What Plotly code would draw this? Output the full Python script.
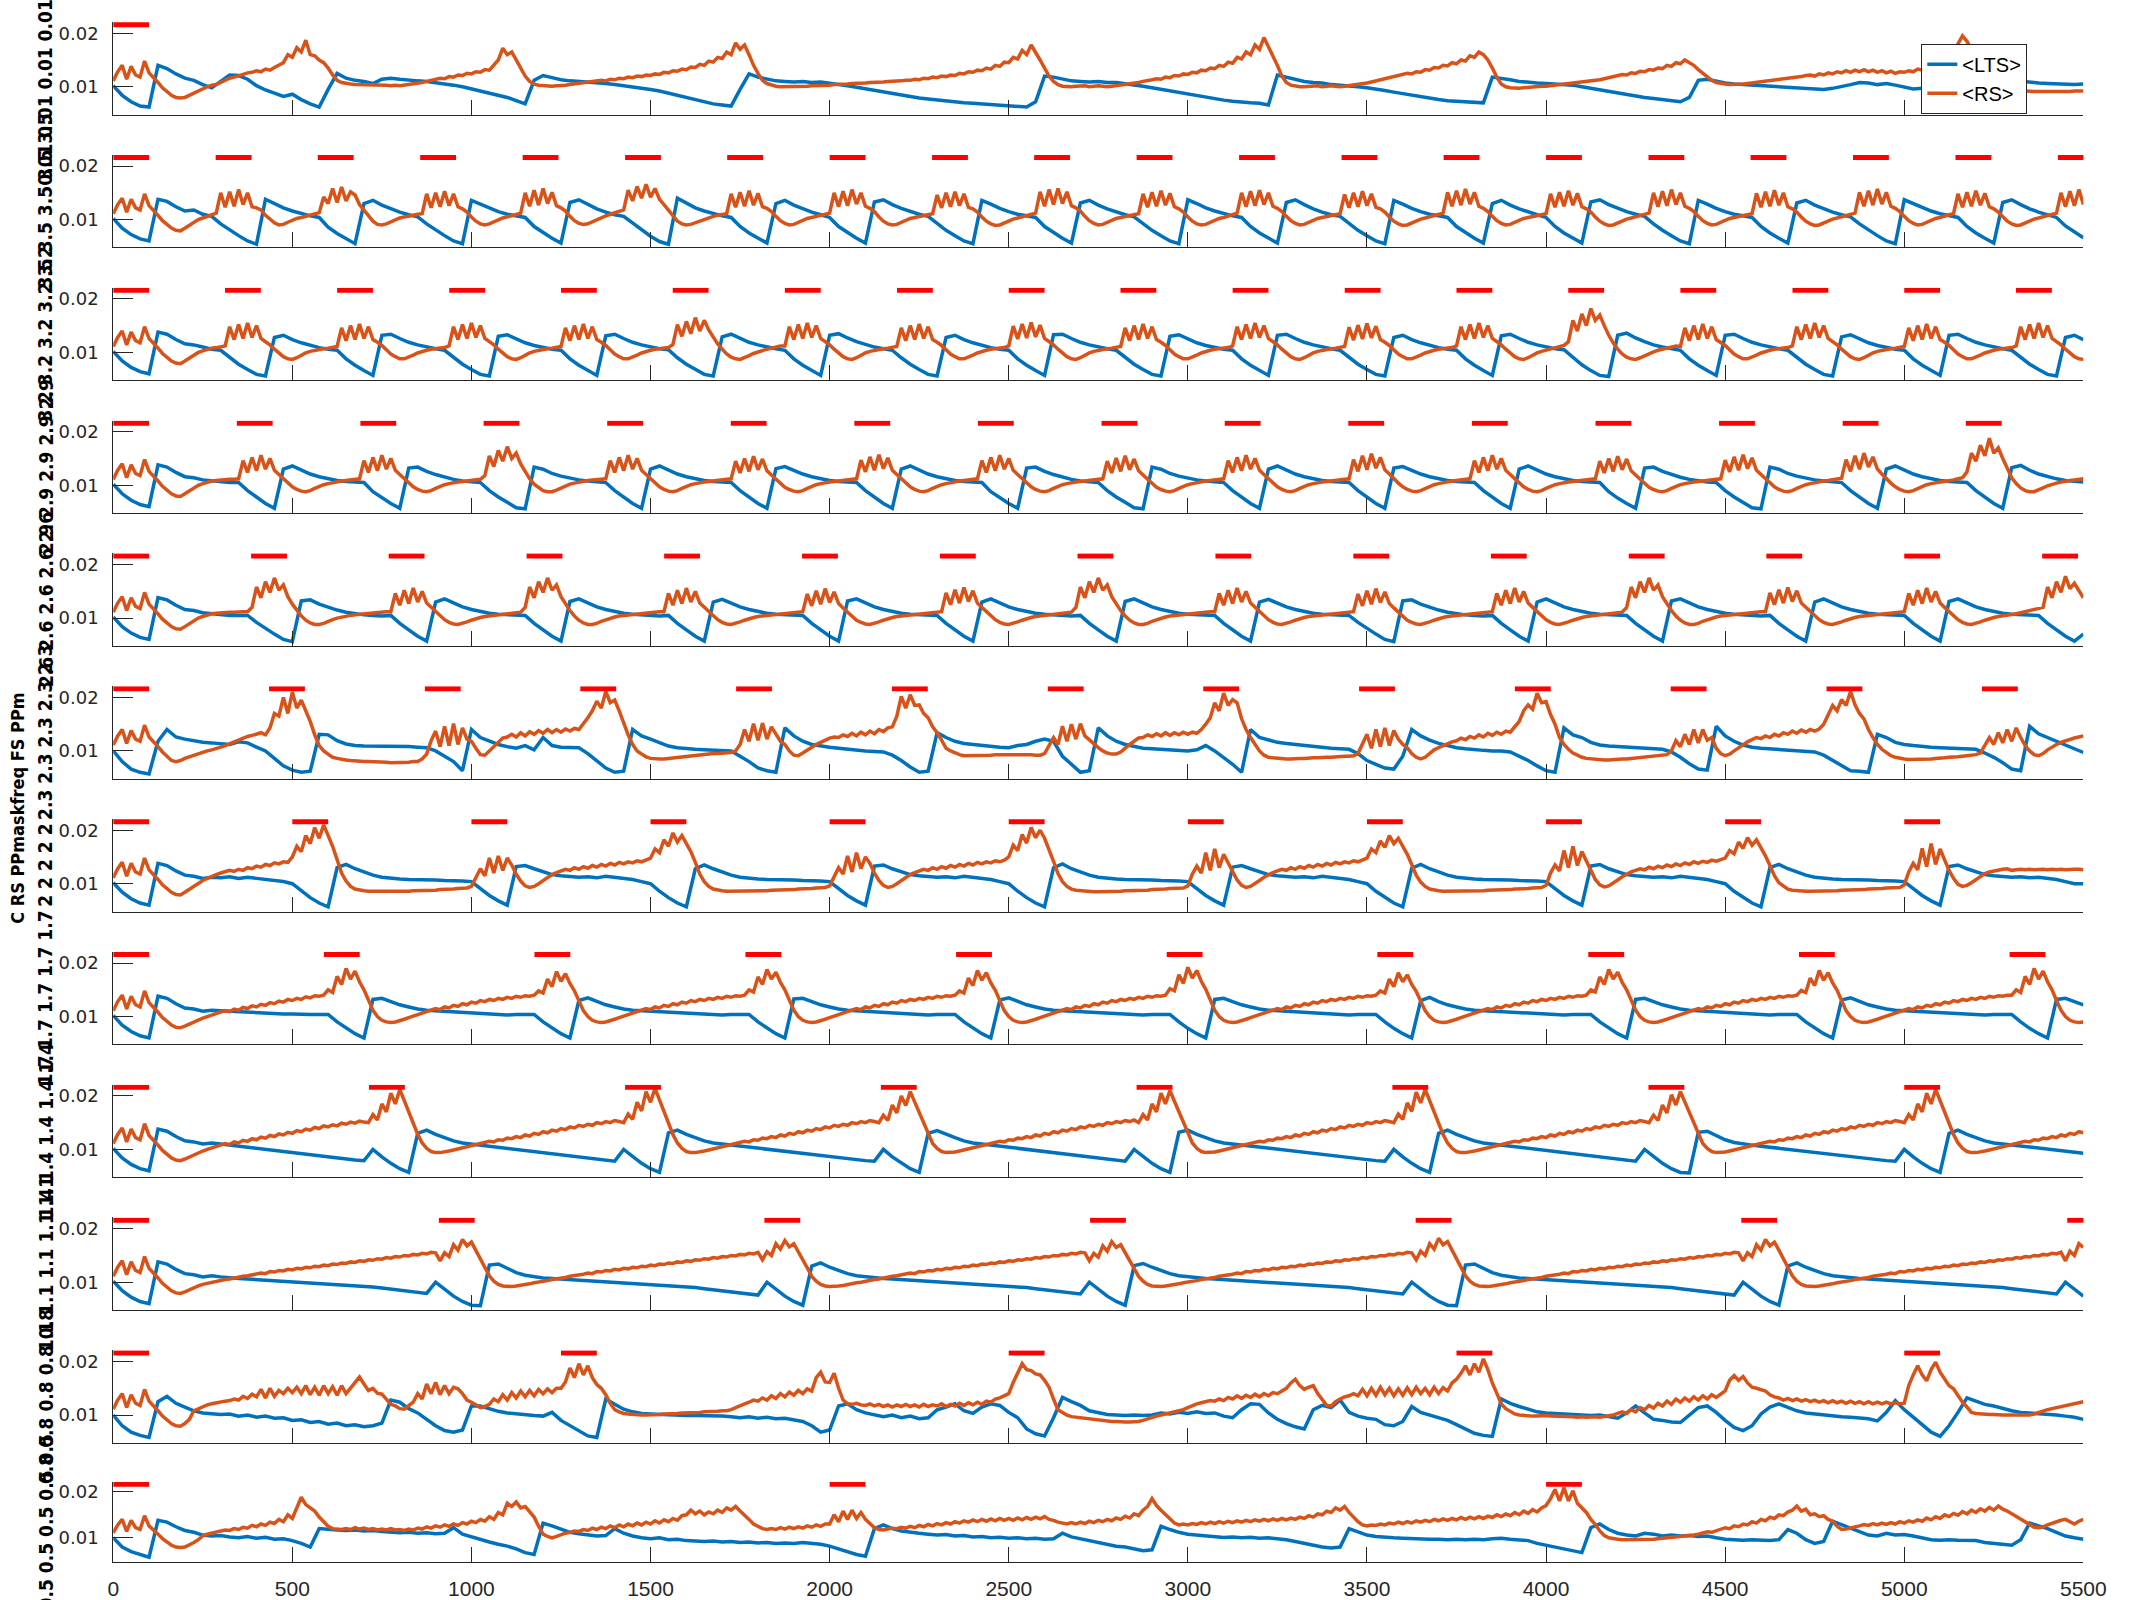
import numpy as np
import plotly.graph_objects as go

# ---------------- data ----------------
# Population-averaged activity (values in units of 1e-4).
# RS series are sampled every 12.5 ms, LTS series every 25 ms, from 0 to 5500 ms.
FREQ_LABELS = ['0.01', '3.5', '3.2', '2.9', '2.6', '2.3', '2', '1.7', '1.4', '1.1', '0.8', '0.5']
TICK_X = [0, 500, 1000, 1500, 2000, 2500, 3000, 3500, 4000, 4500, 5000, 5500]
TICK_Y = [0.01, 0.02]
TICK_Y_TEXT = ['0.01', '0.02']
PULSE_DUR = 100

ON_01 = [0]
ON_02 = [0, 286, 571, 857, 1143, 1429, 1714, 2000, 2286, 2571, 2857, 3143, 3429, 3714, 4000, 4286, 4571, 4857, 5143, 5429]
ON_03 = [0, 312, 625, 938, 1250, 1562, 1875, 2188, 2500, 2812, 3125, 3438, 3750, 4062, 4375, 4688, 5000, 5312]
ON_04 = [0, 345, 690, 1034, 1379, 1724, 2069, 2414, 2759, 3103, 3448, 3793, 4138, 4483, 4828, 5172]
ON_05 = [0, 385, 769, 1154, 1538, 1923, 2308, 2692, 3077, 3462, 3846, 4231, 4615, 5000, 5385]
ON_06 = [0, 435, 870, 1304, 1739, 2174, 2609, 3043, 3478, 3913, 4348, 4783, 5217]
ON_07 = [0, 500, 1000, 1500, 2000, 2500, 3000, 3500, 4000, 4500, 5000]
ON_08 = [0, 588, 1176, 1765, 2353, 2941, 3529, 4118, 4706, 5294]
ON_09 = [0, 714, 1429, 2143, 2857, 3571, 4286, 5000]
ON_10 = [0, 909, 1818, 2727, 3636, 4545, 5455]
ON_11 = [0, 1250, 2500, 3750, 5000]
ON_12 = [0, 2000, 4000]

RS_01 = [111,128,140,114,138,122,118,148, 126,118,108,98,90,84,80,79,
         80,84,89,93,97,100,103,104, 108,112,116,118,120,123,126,127,
         130,128,133,131,136,140,145,160, 155,173,165,187,160,158,150,145,
         135,122,112,108,106,105,104,104, 103,103,104,103,104,103,102,103,
         102,103,104,105,106,108,110,112, 114,116,115,119,118,122,121,125,
         124,128,127,132,131,140,150,172, 160,165,150,135,120,110,105,103,
         102,101,101,102,102,103,104,105, 106,107,108,109,110,112,111,114,
         113,116,115,118,117,120,119,122, 121,124,123,127,126,130,129,133,
         132,137,136,142,140,148,146,155, 153,165,160,182,170,178,160,140,
         125,112,106,103,101,100,100,100, 100,100,101,101,102,102,103,103,
         103,104,104,105,105,106,106,107, 107,108,108,109,109,110,110,111,
         111,112,112,114,113,116,115,118, 117,120,119,122,121,125,124,128,
         127,131,130,135,133,140,138,146, 145,155,152,168,160,178,165,150,
         135,120,110,104,101,100,100,101, 101,102,100,101,102,101,100,101,
         102,103,104,105,107,108,110,111, 113,115,114,118,117,121,120,124,
         123,127,126,131,130,135,134,140, 138,146,144,155,152,165,160,178,
         170,192,175,160,140,120,108,103, 101,100,100,101,101,102,100,101,
         102,101,100,101,102,103,104,106, 107,109,111,113,115,117,119,121,
         123,125,124,128,127,132,131,136, 135,140,139,145,143,150,148,158,
         155,165,160,150,135,118,105,100, 98,97,97,98,99,100,100,101,
         101,102,102,103,104,105,106,107, 108,109,110,112,113,115,117,119,
         121,123,122,126,125,129,128,132, 131,135,134,140,138,145,143,150,
         145,140,132,125,118,112,108,106, 105,104,104,105,105,106,107,108,
         109,110,111,112,113,114,115,117, 118,119,121,122,120,124,122,126,
         124,128,126,130,127,131,128,132, 128,131,127,130,126,129,125,128,
         127,130,128,133,131,137,135,142, 140,150,148,165,180,195,185,170,
         150,130,110,100,96,94,93,93, 93,92,92,92,91,91,91,91,
         90,90,90,91,91,91,92,92,
         92]
LTS_01 = [102,84,72,64, 62,140,134,124, 116,112,104,98, 110,122,121,114, 102,94,88,82,
          86,76,68,62, 95,125,116,112, 110,106,114,116, 114,112,111,110, 108,106,103,100,
          96,92,88,84, 80,74,68,112, 121,117,113,111, 110,108,107,106, 104,102,100,98,
          95,92,88,84, 80,76,72,68, 66,64,95,124, 118,114,111,110, 109,110,108,109,
          107,105,102,99, 96,93,90,87, 84,82,79,77, 75,74,72,70, 69,68,67,66,
          65,64,62,72, 120,118,114,111, 110,109,110,108, 108,106,104,101, 98,95,92,89,
          86,83,80,77, 75,73,71,70, 69,66,122,118, 113,110,108,107, 104,103,101,100,
          98,96,93,90, 87,84,81,78, 76,74,73,72, 71,70,118,116, 113,110,108,107,
          106,105,104,103, 100,97,94,91, 88,85,82,80, 78,76,74,72, 80,112,114,110,
          107,105,104,103, 101,100,99,98, 97,96,95,95, 97,100,104,108, 107,104,106,103,
          99,96,97,100, 94,85,72,62, 70,115,122,116, 112,110,108,107, 106,105,104,104,
          105]

RS_02 = [111,128,140,114,138,122,118,148,126,118,108,98,90,84,80,79,84,90,95,100,103,106,109,
         112,150,123,152,125,156,128,150,124,122,118,108,100,94,90,91,95,99,102,104,106,108,110,
         113,142,130,158,132,161,135,152,146,128,118,106,97,91,90,92,96,100,103,105,106,108,110,
         111,148,122,150,124,153,126,148,124,120,114,105,97,92,90,92,96,100,103,105,107,109,
         112,150,125,155,127,158,130,151,126,122,116,106,98,93,91,92,96,100,104,107,110,113,116,
         118,155,135,162,140,166,142,158,138,128,118,106,97,92,90,91,94,98,101,104,106,108,110,
         111,148,123,151,125,154,127,149,124,121,115,106,98,93,90,91,95,99,102,104,106,108,110,
         112,150,124,153,126,156,129,150,125,121,115,105,97,92,90,91,95,99,102,104,106,108,110,
         111,146,122,150,124,152,126,148,123,120,114,105,97,92,89,90,94,98,101,103,105,107,109,
         112,152,125,156,128,158,130,152,126,122,116,106,98,93,90,91,95,99,102,104,106,108,110,
         111,148,123,151,125,154,127,149,124,120,114,105,97,92,90,91,95,99,102,104,107,109,
         112,150,124,153,126,155,128,150,125,121,115,106,98,93,90,91,95,99,102,104,106,108,110,
         111,147,122,150,124,153,126,148,123,120,114,105,97,92,89,90,94,98,101,103,105,107,109,
         112,151,125,154,127,157,129,151,125,121,115,106,98,93,90,91,95,99,102,104,106,108,110,
         111,148,123,151,125,154,127,149,124,120,114,105,97,92,89,90,94,98,101,103,105,107,109,
         112,150,124,153,126,156,128,150,125,121,115,106,98,93,90,91,95,99,102,104,106,108,110,
         111,149,123,152,125,155,127,150,124,120,114,105,97,92,89,90,94,98,101,103,105,107,109,
         112,151,125,154,127,157,129,151,125,121,115,106,98,93,90,91,95,99,102,104,107,109,
         111,148,123,151,125,154,127,149,124,120,114,105,97,92,89,90,94,98,101,103,105,107,109,
         112,150,124,153,126,156,128]
LTS_02 = [102,84,72,64,60,138,134,124,116,118,110,
          106,92,80,70,60,54,138,130,122,116,111,107,
          104,86,74,64,55,130,136,127,120,114,109,
          105,92,80,70,60,55,136,129,121,115,110,107,
          104,87,75,65,56,132,137,128,120,114,109,
          106,93,80,69,59,54,140,131,122,116,111,107,
          104,87,75,65,56,130,136,127,120,114,109,
          104,87,75,65,56,133,137,128,121,115,110,
          106,92,80,70,60,55,136,129,121,115,110,107,
          104,87,75,65,56,131,136,127,120,114,109,
          105,92,80,70,60,55,137,130,122,116,111,107,
          104,87,75,65,56,132,137,128,120,114,109,
          106,93,80,70,60,55,136,129,121,115,110,107,
          104,87,75,65,56,130,136,127,120,114,109,
          104,87,75,65,56,133,137,128,121,115,110,
          106,92,80,70,60,55,136,129,121,115,110,107,
          104,87,75,65,56,131,136,127,120,114,109,
          105,92,80,70,60,55,137,130,122,116,111,107,
          104,87,75,65,56,132,137,128,120,114,109,
          104,88,76,66]

RS_03 = [111,128,140,114,138,122,118,148,126,118,108,98,90,84,80,79,84,90,95,100,103,106,108,109,110,
         112,148,124,152,126,155,128,150,126,120,114,106,98,92,88,87,90,95,99,102,104,106,107,108,110,
         111,146,122,150,124,153,126,148,124,119,113,105,97,92,88,88,91,95,99,102,104,106,107,108,109,
         112,148,124,152,126,155,128,150,126,120,114,106,98,92,88,87,90,95,99,102,104,106,107,108,110,
         111,146,122,150,124,153,126,148,124,119,113,105,97,92,88,88,91,95,99,102,104,106,107,108,109,
         115,152,130,158,135,165,140,160,142,128,116,106,97,91,88,87,90,94,98,101,104,106,108,110,112,
         112,148,124,152,126,155,128,150,126,120,114,106,98,92,88,87,90,95,99,102,104,106,107,108,110,
         111,146,122,150,124,153,126,148,124,119,113,105,97,92,88,88,91,95,99,102,104,106,107,108,109,
         112,149,125,153,127,156,129,151,126,120,114,106,98,92,88,87,90,95,99,102,104,106,107,108,110,
         111,146,122,150,124,153,126,148,124,119,113,105,97,92,88,88,91,95,99,102,104,106,107,108,109,
         112,148,124,152,126,155,128,150,126,120,114,106,98,92,88,87,90,95,99,102,104,106,107,108,110,
         111,147,123,151,125,154,127,149,124,119,113,105,97,92,88,88,91,95,99,102,104,106,107,108,109,
         112,148,124,152,126,155,128,150,126,120,114,106,98,92,88,87,90,95,99,102,104,106,108,110,113,
         120,160,140,172,150,182,160,170,150,132,118,106,97,91,88,87,90,94,98,101,104,106,108,110,112,
         111,146,122,150,124,153,126,148,124,119,113,105,97,92,88,88,91,95,99,102,104,106,107,108,109,
         112,148,124,152,126,155,128,150,126,120,114,106,98,92,88,87,90,95,99,102,104,106,107,108,110,
         111,146,122,150,124,153,126,148,124,119,113,105,97,92,88,88,91,95,99,102,104,106,107,108,109,
         112,148,124,152,126,155,128,150,126,120,114,106,98,92,88,87]
LTS_03 = [102,84,72,64,60,138,134,124,116,114,110,106,
          104,90,78,68,59,56,128,132,124,118,113,109,106,
          104,88,76,66,57,132,134,126,119,114,110,107,
          104,90,78,68,59,56,130,133,125,118,113,109,106,
          104,88,76,66,57,131,134,126,119,114,110,107,
          105,90,78,68,59,56,129,134,126,119,114,110,107,
          104,88,76,66,57,132,135,127,120,115,110,107,
          104,90,78,68,59,56,128,132,124,118,113,109,106,
          104,88,76,66,57,133,134,126,119,114,110,107,
          104,90,78,68,59,56,130,133,125,118,113,109,106,
          104,88,76,66,57,132,134,126,119,114,110,107,
          104,90,78,68,59,56,128,132,124,118,113,109,106,
          104,88,76,66,57,131,134,126,119,114,110,107,
          105,90,77,66,57,55,132,136,127,120,114,110,107,
          104,88,76,66,57,132,134,126,119,114,110,107,
          104,90,78,68,59,56,129,133,125,118,113,109,106,
          104,88,76,66,57,132,134,126,119,114,110,107,
          104,90,78,68,59,56,128,132,124]

RS_04 = [111,128,140,114,138,122,118,148,126,118,108,98,90,84,80,79,84,90,95,100,103,106,108,109,110,110,111,111,
         112,146,124,152,127,156,130,150,128,120,112,104,97,92,89,88,90,94,98,101,103,105,107,108,109,110,111,
         112,146,124,152,127,156,130,150,128,120,112,104,97,92,89,88,90,94,98,101,103,105,106,107,108,109,110,111,
         118,155,135,165,145,172,150,160,140,125,112,102,95,90,88,88,91,95,99,102,104,106,108,109,110,111,112,
         112,146,124,152,127,156,130,150,128,120,112,104,97,92,89,88,90,94,98,101,103,105,106,107,108,109,110,111,
         112,145,123,150,126,154,129,149,127,119,111,103,96,92,89,88,90,94,98,101,103,105,106,107,108,109,110,111,
         112,147,125,153,128,157,131,151,128,120,112,104,97,92,89,88,90,94,98,101,103,105,107,108,109,110,111,
         112,146,124,152,127,156,130,150,128,120,112,104,97,92,89,88,90,94,98,101,103,105,106,107,108,109,110,111,
         112,145,123,151,126,155,129,149,127,119,111,103,96,92,89,88,90,94,98,101,103,105,107,108,109,110,111,
         112,146,124,152,127,156,130,150,128,120,112,104,97,92,89,88,90,94,98,101,103,105,106,107,108,109,110,111,
         112,148,126,155,129,159,132,152,129,121,112,104,97,92,89,88,90,94,98,101,103,105,107,108,109,110,111,
         112,146,124,152,127,156,130,150,128,120,112,104,97,92,89,88,90,94,98,101,103,105,106,107,108,109,110,111,
         112,145,123,150,126,154,129,149,127,119,111,103,96,92,89,88,90,94,98,101,103,105,106,107,108,109,110,111,
         112,147,125,153,128,157,131,151,128,120,112,104,97,92,89,88,90,94,98,101,103,105,107,108,109,110,111,
         113,148,126,155,130,160,134,153,130,121,112,104,97,92,89,88,90,94,98,101,103,105,106,107,108,110,112,114,
         125,160,145,175,155,188,160,170,150,130,114,103,95,90,88,88,91,95,99,102,104,106,108,109,110,111,112]
LTS_04 = [102,84,72,64,60,138,134,124,116,114,110,108,106,105,
          105,90,78,66,57,130,136,128,121,116,112,109,107,106,
          105,88,76,66,57,132,134,126,120,115,111,108,106,
          105,90,78,68,58,56,134,130,122,117,113,110,108,106,
          105,90,78,66,57,130,136,128,121,116,112,109,107,106,
          105,90,78,66,57,131,135,128,121,116,112,109,107,106,
          105,90,78,66,57,130,136,128,121,116,112,109,107,106,
          105,88,76,66,57,132,134,126,120,115,111,108,106,
          105,90,78,68,58,56,134,130,122,117,113,110,108,106,
          105,90,78,66,57,130,136,128,121,116,112,109,107,106,
          105,90,78,66,57,132,135,128,121,116,112,109,107,106,
          105,90,78,66,57,130,136,128,121,116,112,109,107,106,
          105,88,76,66,57,132,134,126,120,115,111,108,106,
          105,90,78,68,58,56,134,130,122,117,113,110,108,106,
          105,90,78,66,57,130,136,128,121,116,112,109,107,106,
          105,90,78,66,57,133,137,128,121,116,112,109,107,106]

RS_05 = [111,128,140,114,138,122,118,148,126,118,108,98,90,84,80,79,84,90,95,100,103,106,108,109,110,110,111,111,112,112,112,
         120,158,138,168,148,175,152,162,140,126,114,104,96,91,88,88,90,94,97,100,102,104,105,106,107,108,109,110,111,112,112,
         112,146,124,152,127,156,130,150,128,120,112,104,97,92,89,88,90,93,96,99,101,103,104,105,106,107,108,109,110,111,
         120,158,138,168,148,175,152,162,140,126,114,104,96,91,88,88,90,94,97,100,102,104,105,106,107,108,109,110,111,112,112,
         112,146,124,152,127,156,130,150,128,120,112,104,97,92,89,88,90,93,96,99,101,103,104,105,106,107,108,109,110,111,111,
         112,145,123,151,126,155,129,149,127,119,111,103,96,92,89,88,90,93,96,99,101,103,104,105,106,107,108,109,110,111,111,
         112,147,125,153,128,157,131,151,128,120,112,104,97,92,89,88,90,93,96,99,101,103,104,105,106,107,108,109,110,111,
         120,158,138,168,148,175,152,162,140,126,114,104,96,91,88,88,90,94,97,100,102,104,105,106,107,108,109,110,111,112,112,
         112,146,124,152,127,156,130,150,128,120,112,104,97,92,89,88,90,93,96,99,101,103,104,105,106,107,108,109,110,111,111,
         112,145,123,151,126,155,129,149,127,119,111,103,96,92,89,88,90,93,96,99,101,103,104,105,106,107,108,109,110,111,111,
         112,146,124,152,127,156,130,150,128,120,112,104,97,92,89,88,90,93,96,99,101,103,104,105,106,107,108,109,110,111,
         120,158,138,168,148,175,152,162,140,126,114,104,96,91,88,88,90,94,97,100,102,104,105,106,107,108,109,110,111,112,112,
         112,147,125,153,128,157,131,151,128,120,112,104,97,92,89,88,90,93,96,99,101,103,104,105,106,107,108,109,110,111,111,
         112,146,124,152,127,156,130,150,128,120,112,104,97,92,89,88,90,93,96,99,101,103,104,105,106,108,110,112,114,116,118,
         120,158,138,168,148,178,155,165,150,138]
LTS_05 = [102,84,72,64,60,138,134,124,116,114,110,108,106,105,105,
          105,92,80,70,60,56,132,134,126,120,115,111,108,106,105,104,
          105,90,78,66,57,130,136,128,121,116,112,109,107,106,105,
          105,90,78,66,57,131,136,128,121,116,112,109,107,106,105,104,
          105,90,78,66,57,130,135,128,121,116,112,109,107,106,105,
          105,90,78,66,57,132,136,128,121,116,112,109,107,106,105,
          105,90,78,66,57,130,136,128,121,116,112,109,107,106,105,104,
          105,90,78,66,57,131,136,128,121,116,112,109,107,106,105,
          105,90,78,66,57,130,135,128,121,116,112,109,107,106,105,
          105,92,80,70,60,56,132,134,126,120,115,111,108,106,105,104,
          105,90,78,66,57,130,136,128,121,116,112,109,107,106,105,
          105,90,78,66,57,132,136,128,121,116,112,109,107,106,105,104,
          105,90,78,66,57,130,136,128,121,116,112,109,107,106,105,
          105,90,78,66,57,131,136,128,121,116,112,109,107,106,105,
          105,90,78,66,57,70]

RS_06 = [111,128,140,114,138,122,118,148, 126,118,108,98,90,82,80,82,
         86,89,92,95,97,100,102,104, 107,110,114,117,120,124,127,129,
         131,134,130,143,170,165,200,170, 210,180,195,175,155,130,110,100,
         93,88,86,84,83,82,81,81, 80,80,80,79,79,79,78,78,
         78,78,79,80,80,85,94,119, 137,108,146,110,151,112,143,122,
         118,105,93,92,100,110,118,124, 126,131,126,134,128,136,131,138,
         133,140,134,140,135,141,137,142, 140,150,162,175,193,180,211,190,
         195,175,150,130,112,100,94,89, 86,85,85,85,86,86,87,88,
         89,90,91,92,93,94,95,95, 96,96,97,100,112,140,118,151,
         120,152,122,145,130,118,112,100, 92,91,96,102,108,112,116,120,
         124,126,125,130,127,133,128,135, 130,137,132,140,136,143,145,165,
         202,180,205,185,186,170,162,145, 134,120,105,100,96,93,91,91,
         91,91,92,92,92,93,93,93, 93,93,94,94,94,93,92,92,
         95,110,125,112,146,118,150,122, 151,128,120,112,106,100,96,94,
         94,98,106,112,118,124,125,130, 127,132,128,134,129,134,130,135,
         131,135,133,140,150,162,190,175, 208,185,196,190,160,140,125,112,
         100,92,88,87,86,86,85,85, 86,86,86,87,87,87,88,88,
         88,89,89,90,90,91,95,115, 131,105,140,108,143,110,138,122,
         112,106,95,88,85,88,95,102, 106,110,114,117,119,124,121,127,
         124,130,126,133,129,135,131,137, 135,145,155,175,186,178,208,190,
         192,168,150,125,112,103,96,92, 88,86,85,84,84,83,83,84,
         84,85,85,86,86,87,88,89, 90,91,92,93,100,119,108,131,
         112,140,115,140,120,125,105,95, 91,94,100,106,112,117,121,125,
         123,128,125,131,128,134,131,137, 133,139,135,140,137,141,150,168,
         185,175,196,185,211,186,170,160, 140,125,112,103,96,91,88,86,
         85,84,84,84,84,85,85,86, 86,87,88,88,89,90,91,92,
         93,96,110,125,112,134,115,140, 118,143,125,110,100,93,91,95,
         102,108,112,116,119,122,124,126,
         128]
LTS_06 = [100,80,66,60, 57,118,140,126, 122,119,116,115, 113,112,117,115, 107,100,86,72,
          64,60,62,131, 130,119,113,110, 109,109,109,109, 108,108,107,106, 100,90,80,63,
          140,125,118,112, 108,105,110,102, 125,110,107,106, 106,95,82,68, 60,62,140,128,
          122,115,109,106, 104,103,102,101, 100,100,90,80, 68,63,60,143, 128,118,112,109,
          107,105,103,102, 100,99,98,92, 82,70,60,62, 134,125,118,114, 112,110,108,107,
          106,110,112,118, 122,118,90,75, 60,63,143,128, 118,112,108,105, 104,103,102,101,
          100,102,110,100, 88,75,60,140, 125,120,116,114, 112,110,108,106, 105,104,103,95,
          82,75,68,66, 90,140,128,120, 114,110,106,104, 102,101,100,100, 98,90,82,72,
          63,60,143,130, 125,116,111,109, 108,107,106,105, 104,103,98,88, 76,66,64,146,
          128,118,111,107, 105,104,103,102, 101,100,98,92, 82,72,63,62, 60,131,125,116,
          112,110,108,107, 106,105,104,104, 103,96,88,78, 66,63,146,132, 125,118,112,104,
          97]

RS_07 = [111,128,140,114,138,122,118,148,126,118,108,98,90,84,80,79,84,90,96,101,106,110,114,117,120,122,125,123,127,125,130,128,133,131,136,134,139,137,141,140,
         150,170,160,190,175,205,185,210,190,170,145,120,105,95,90,88,87,86,86,85,85,85,85,85,86,86,86,87,87,87,88,88,88,89,89,90,90,91,91,92,
         95,112,128,115,148,120,152,125,148,135,118,105,96,93,95,100,106,112,117,121,124,127,125,130,127,132,129,134,131,136,133,138,135,140,137,141,139,143,141,144,
         148,165,158,182,170,195,178,190,175,160,140,118,104,95,90,88,87,86,86,86,86,86,86,86,87,87,87,88,88,88,89,89,89,90,90,91,91,92,92,93,
         96,115,130,118,152,122,158,128,150,138,120,106,97,93,95,100,106,112,117,121,124,127,125,130,127,132,129,134,131,136,133,138,135,140,137,141,139,143,141,144,
         150,172,162,192,176,205,186,200,185,165,142,119,104,95,90,88,87,86,86,85,85,85,85,86,86,86,87,87,87,88,88,88,89,89,90,90,91,91,92,92,
         96,118,133,120,158,125,165,130,155,140,122,107,97,93,95,100,106,112,117,121,124,127,125,130,127,132,129,134,131,136,133,138,135,140,137,141,139,143,141,144,
         148,165,158,180,168,190,175,185,170,155,136,116,103,95,90,88,87,86,86,86,86,86,86,86,87,87,87,88,88,88,89,89,89,90,90,91,91,92,92,93,
         97,120,135,124,162,130,170,134,160,142,123,108,98,94,96,101,107,113,118,122,125,128,126,131,128,133,130,135,132,137,134,139,136,141,138,142,140,144,142,145,
         148,162,156,178,166,186,172,182,168,152,134,115,102,95,90,88,87,87,86,86,86,86,86,87,87,87,88,88,88,89,89,89,90,90,91,91,92,92,93,93,
         98,122,138,126,166,132,175,136,165,145,125,110,99,95,97,102,108,114,119,122,124,126,127,128,125,126,127,126,127,126,127,127,126,127,126,127,126,127,127,127,
         126]
LTS_07 = [102,84,72,64,60,138,134,124,116,114,110,112,111,113,110,112,110,108,106,104,
          100,86,74,64,57,130,136,128,122,116,112,110,109,108,108,107,107,106,106,105,
          104,90,78,68,60,132,134,128,122,117,115,113,112,113,111,114,112,110,108,104,
          100,86,74,64,57,128,135,128,122,116,112,110,109,108,108,107,107,106,106,105,
          104,90,78,68,60,133,135,128,122,117,115,113,112,113,111,114,112,110,108,104,
          100,86,74,64,57,130,137,128,122,116,112,110,109,108,108,107,107,106,106,105,
          104,90,78,68,60,131,134,128,122,117,115,113,112,113,111,114,112,110,108,104,
          100,86,74,64,57,129,136,128,122,116,112,110,109,108,108,107,107,106,106,105,
          104,90,78,68,60,133,136,128,122,117,115,113,112,113,111,114,112,110,108,104,
          100,86,74,64,57,130,136,128,122,116,112,110,109,108,108,107,107,106,106,105,
          104,90,78,68,60,132,135,128,122,117,115,113,112,113,111,112,110,108,104,100,
          100]

RS_08 = [111,128,140,114,138,122,118,148,126,118,108,98,90,84,80,79,82,86,90,94,97,100,103,106,108,111,109,114,112,117,115,120,118,123,121,126,124,129,127,132,130,134,132,137,135,139,138,
         140,150,145,175,160,190,170,185,165,150,130,112,100,93,90,89,90,92,95,98,101,104,107,110,112,115,113,118,116,121,119,124,122,127,125,130,128,132,130,134,132,136,134,138,136,139,138,
         140,148,144,170,156,184,166,180,162,148,128,111,100,93,90,89,90,92,95,98,101,104,107,110,112,115,113,118,116,121,119,124,122,127,125,130,128,132,130,134,132,136,134,138,136,139,138,
         140,150,146,174,160,188,170,183,164,150,130,112,100,93,90,89,90,92,95,98,101,104,107,110,112,115,113,118,116,121,119,124,122,127,125,130,128,132,130,134,132,136,134,138,136,139,138,
         140,148,144,172,158,186,168,182,163,149,129,111,100,93,90,89,90,92,95,98,101,104,107,110,112,115,113,118,116,121,119,124,122,127,125,130,128,132,130,134,132,136,134,138,136,139,138,
         140,152,148,178,162,192,172,186,166,151,131,112,100,93,90,89,90,92,95,98,101,104,107,110,112,115,113,118,116,121,119,124,122,127,125,130,128,132,130,134,132,136,134,138,136,139,138,
         140,148,144,170,156,182,165,178,160,147,128,111,100,93,90,89,90,92,95,98,101,104,107,110,112,115,113,118,116,121,119,124,122,127,125,130,128,132,130,134,132,136,134,138,136,139,138,
         140,150,146,174,160,188,170,183,164,150,130,112,100,93,90,89,90,92,95,98,101,104,107,110,112,115,113,118,116,121,119,124,122,127,125,130,128,132,130,134,132,136,134,138,136,139,138,
         140,149,145,172,158,186,168,182,163,149,129,111,100,93,90,89,90,92,95,98,101,104,107,110,112,115,113,118,116,121,119,124,122,127,125,130,128,132,130,134,132,136,134,138,136,139,138,140,
         140,150,145,175,160,190,170,185,165,150,130,112,100,93,90,89,90]
LTS_08 = [102,84,72,64,60,138,134,124,116,114,110,112,111,110,109,108,108,107,106,105,105,104,104,104,
          104,90,78,68,60,132,134,128,122,118,114,112,111,110,109,108,107,106,105,104,103,104,104,
          104,90,78,68,60,130,135,128,122,118,114,112,111,110,110,109,108,107,106,105,104,103,104,104,
          104,90,78,68,60,133,134,128,122,118,114,112,111,110,109,108,107,106,105,104,103,104,104,
          104,90,78,68,60,131,135,128,122,118,114,112,111,110,110,109,108,107,106,105,104,103,104,104,
          104,90,78,68,60,132,134,128,122,118,114,112,111,110,109,108,107,106,105,104,103,104,104,
          104,90,78,68,60,130,136,128,122,118,114,112,111,110,110,109,108,107,106,105,104,103,104,104,
          104,90,78,68,60,132,134,128,122,118,114,112,111,110,109,108,107,106,105,104,103,104,104,
          104,90,78,68,60,131,135,128,122,118,114,112,111,110,110,109,108,107,106,105,104,103,104,104,
          104,90,78,68,60,132,134,128,122]

RS_09 = [111,128,140,114,138,122,118,148,126,118,108,98,90,84,80,79,82,86,90,94,97,100,103,106,108,111,109,114,112,117,115,120,118,123,121,126,124,129,127,132,130,135,133,138,136,141,139,144,142,146,144,149,147,151,149,153,151,
         150,165,155,185,170,205,185,212,190,170,150,128,112,102,96,94,94,95,97,99,101,103,105,107,109,111,113,115,114,118,117,121,120,124,122,127,125,130,128,133,131,136,134,139,137,142,140,145,143,147,145,150,148,152,150,154,152,
         150,166,156,188,172,208,188,214,192,172,150,128,112,102,96,94,94,95,97,99,101,103,105,107,109,111,113,115,114,118,117,121,120,124,122,127,125,130,128,133,131,136,134,139,137,142,140,145,143,147,145,150,148,152,150,154,152,
         150,164,154,183,168,200,182,208,188,168,148,127,111,102,96,94,94,95,97,99,101,103,105,107,109,111,113,115,114,118,117,121,120,124,122,127,125,130,128,133,131,136,134,139,137,142,140,145,143,147,145,150,148,152,150,154,152,155,
         150,165,155,185,170,205,185,210,190,170,150,128,112,102,96,94,94,95,97,99,101,103,105,107,109,111,113,115,114,118,117,121,120,124,122,127,125,130,128,133,131,136,134,139,137,142,140,145,143,147,145,150,148,152,150,154,152,
         150,166,156,187,171,207,187,212,191,171,150,128,112,102,96,94,94,95,97,99,101,103,105,107,109,111,113,115,114,118,117,121,120,124,122,127,125,130,128,133,131,136,134,139,137,142,140,145,143,147,145,150,148,152,150,154,152,
         150,164,154,183,168,202,183,208,188,168,148,127,111,102,96,94,94,95,97,99,101,103,105,107,109,111,113,115,114,118,117,121,120,124,122,127,125,130,128,133,131,136,134,139,137,142,140,145,143,147,145,150,148,152,150,154,152,
         150,165,155,185,170,205,185,212,190,170,150,128,112,102,96,94,94,95,97,99,101,103,105,107,109,111,113,115,114,118,117,121,120,124,122,127,125,130,128,133,131]
LTS_09 = [102,84,72,64,60,138,134,124,116,114,110,112,110,108,106,104,102,100,98,96,93,91,89,87,85,83,81,80,79,
          100,86,74,64,57,130,136,128,122,116,112,110,108,107,105,103,101,99,97,95,92,90,88,86,84,82,80,78,
          100,86,74,64,57,131,136,128,122,116,112,110,108,107,105,103,101,99,97,95,92,90,88,86,84,82,80,79,78,
          100,86,74,64,57,130,135,128,122,116,112,110,108,107,105,103,101,99,97,95,92,90,88,86,84,82,80,78,
          100,86,74,64,57,132,136,128,122,116,112,110,108,107,105,103,101,99,97,95,92,90,88,86,84,82,80,79,78,
          100,86,74,64,57,130,136,128,122,116,112,110,108,107,105,103,101,99,97,95,92,90,88,86,84,82,80,78,
          100,86,74,64,57,56,132,134,126,118,113,110,108,106,104,102,100,98,96,94,92,90,88,86,84,82,80,79,78,
          100,86,74,64,57,130,136,128,122,116,112,110,108,107,105,103,101,99,97,95,93]

RS_10 = [111,128,140,114,138,122,118,148,126,118,108,98,90,84,80,79,82,86,90,93,96,98,100,102,103,105,106,108,109,111,112,114,115,117,116,120,119,122,121,124,123,126,125,128,127,130,129,132,131,134,133,136,135,138,137,140,139,142,141,144,143,146,145,148,147,150,149,152,151,154,153,156,155,
         140,155,148,170,160,180,168,175,160,145,128,112,102,96,93,92,92,93,94,96,97,99,100,102,103,105,106,108,109,111,112,114,115,117,116,120,119,122,121,124,123,126,125,128,127,130,129,132,131,134,133,136,135,138,137,140,139,142,141,144,143,146,145,148,147,150,149,152,151,154,153,156,
         142,157,150,172,162,178,166,172,158,144,127,111,102,96,93,92,92,93,94,96,97,99,100,102,103,105,106,108,109,111,112,114,115,117,116,120,119,122,121,124,123,126,125,128,127,130,129,132,131,134,133,136,135,138,137,140,139,142,141,144,143,146,145,148,147,150,149,152,151,154,153,156,155,
         140,154,147,168,158,176,165,170,156,142,126,111,102,96,93,92,92,93,94,96,97,99,100,102,103,105,106,108,109,111,112,114,115,117,116,120,119,122,121,124,123,126,125,128,127,130,129,132,131,134,133,136,135,138,137,140,139,142,141,144,143,146,145,148,147,150,149,152,151,154,153,156,155,
         142,158,150,172,162,182,170,176,160,145,128,112,102,96,93,92,92,93,94,96,97,99,100,102,103,105,106,108,109,111,112,114,115,117,116,120,119,122,121,124,123,126,125,128,127,130,129,132,131,134,133,136,135,138,137,140,139,142,141,144,143,146,145,148,147,150,149,152,151,154,153,156,155,
         140,155,148,170,160,180,168,175,160,145,128,112,102,96,93,92,92,93,94,96,97,99,100,102,103,105,106,108,109,111,112,114,115,117,116,120,119,122,121,124,123,126,125,128,127,130,129,132,131,134,133,136,135,138,137,140,139,142,141,144,143,146,145,148,147,150,149,152,151,154,153,156,
         140,158,150,172,165]
LTS_10 = [102,84,72,64,60,138,134,124,116,114,110,112,110,108,107,106,105,104,103,102,101,100,99,98,97,96,95,94,93,91,89,87,85,83,81,79,
          100,86,74,64,57,56,132,134,126,118,113,110,108,107,106,105,104,103,102,101,100,99,98,97,96,95,94,93,92,90,88,86,84,82,80,78,76,
          100,86,74,64,57,130,136,128,122,116,112,110,108,107,106,105,104,103,102,101,100,99,98,97,96,95,94,93,92,90,88,86,84,82,80,78,
          100,86,74,64,57,131,135,128,122,116,112,110,108,107,106,105,104,103,102,101,100,99,98,97,96,95,94,93,92,90,88,86,84,82,80,78,
          100,86,74,64,57,56,132,134,126,118,113,110,108,107,106,105,104,103,102,101,100,99,98,97,96,95,94,93,92,90,88,86,84,82,80,78,76,
          100,86,74,64,57,130,136,128,122,116,112,110,108,107,106,105,104,103,102,101,100,99,98,97,96,95,94,93,92,90,88,86,84,82,80,78,
          100,86,74]

RS_11 = [111,128,140,114,138,122,118,148, 126,118,108,98,90,84,80,79,
         84,92,108,112,116,119,121,123, 124,126,127,130,128,135,131,139,
         134,148,132,150,135,146,140,150, 142,152,140,155,138,152,137,155,
         140,153,137,155,140,150,160,171, 158,146,150,141,139,130,120,117,
         112,111,118,124,140,130,158,140, 161,138,155,140,152,149,140,128,
         124,118,114,116,120,130,125,138, 128,142,132,145,134,146,136,148,
         140,149,142,150,150,162,188,170, 196,175,192,170,157,150,138,122,
         110,106,103,102,101,100,100,100, 100,101,101,102,102,103,103,104,
         104,104,105,105,106,106,107,107, 108,108,110,114,118,121,124,128,
         126,132,128,136,131,140,134,143, 137,146,140,149,145,170,180,162,
         161,178,150,128,121,120,122,119, 118,121,117,120,116,119,115,119,
         116,120,116,119,115,120,116,119, 117,121,116,120,117,122,118,123,
         119,124,120,126,124,130,132,136, 140,161,180,196,185,183,177,175,
         165,152,130,110,105,100,97,96, 94,93,92,91,90,89,89,88,
         88,87,87,87,87,88,90,93, 96,98,100,102,104,106,108,110,
         114,118,121,123,125,127,126,130, 127,133,130,136,131,137,133,139,
         134,140,136,142,140,146,150,160, 167,155,148,152,155,140,130,118,
         117,125,130,134,136,140,136,148, 136,150,137,152,138,150,136,149,
         137,151,138,152,140,150,138,152, 140,151,145,160,167,178,192,175,
         196,180,205,185,160,140,121,112, 106,102,100,99,99,98,98,99,
         99,98,98,97,97,98,97,96, 97,96,97,97,96,97,98,100,
         103,106,103,110,106,114,110,118, 113,122,117,126,120,130,124,132,
         126,134,128,136,130,138,133,140, 145,165,174,165,172,160,152,150,
         148,145,138,134,132,128,131,127, 130,126,129,125,128,124,127,123,
         127,123,126,122,126,122,125,121, 125,121,124,121,124,121,123,121,
         122,155,175,192,175,164,185,199, 180,167,155,149,135,124,115,105,
         103,102,102,101,101,100,100,100, 100,99,99,100,100,102,105,108,
         110,112,114,116,117,119,121,123,
         125]
LTS_11 = [100,80,68,62, 58,125,135,122, 115,108,104,103, 101,102,98,100, 96,98,94,95,
          90,91,86,88, 83,85,80,82, 78,80,85,128, 124,112,104,92, 80,71,68,72,
          117,117,112,107, 104,102,100,99, 98,105,90,80, 71,61,58,130, 120,111,106,103,
          102,101,100,100, 99,99,99,98, 98,97,95,97, 94,96,93,94, 91,88,80,68,
          72,117,121,110, 104,100,97,100, 95,98,93,95, 110,115,121,108, 103,115,121,118,
          105,95,74,65, 61,95,133,125, 118,108,104,101, 100,99,100,99, 100,104,102,105,
          103,106,103,104, 98,95,110,121, 120,104,92,84, 78,74,110,118, 114,128,105,98,
          94,92,82,80, 88,116,105,100, 96,90,82,74, 66,62,60,130, 122,116,111,106,
          104,103,102,101, 100,99,100,97, 94,104,117,104, 92,90,87,86, 100,114,117,105,
          90,77,71,80, 102,115,121,114, 108,104,102,100, 99,97,96,94, 93,89,105,127,
          110,96,82,68, 60,80,105,132, 126,120,117,112, 108,105,104,102, 101,100,98,96,
          92]

RS_12 = [111,128,140,114,138,122,118,148, 126,118,108,98,90,84,80,79,
         80,84,90,96,104,108,110,113, 115,117,116,120,118,123,121,127,
         124,130,127,134,131,140,135,150, 142,165,188,172,165,158,145,135,
         125,120,119,118,120,118,122,119, 121,118,120,117,119,117,120,117,
         118,116,119,117,121,119,124,121, 126,123,128,125,130,127,133,130,
         136,133,140,136,146,140,155,150, 175,168,178,165,168,155,145,125,
         108,103,100,103,107,110,112,115, 114,118,116,121,118,123,120,126,
         122,128,124,130,126,132,128,134, 130,137,132,139,135,142,138,148,
         150,160,152,158,150,156,152,160, 155,165,160,168,158,150,140,130,
         124,120,118,120,118,122,119,123, 120,124,121,126,123,128,125,130,
         130,150,135,158,140,160,142,155, 140,130,122,118,117,119,121,120,
         123,121,125,122,127,124,129,126, 131,128,133,130,135,132,137,134,
         139,135,140,136,141,137,142,138, 142,138,143,139,144,140,145,141,
         146,140,138,134,132,130,133,130, 134,131,136,133,138,135,140,137,
         143,140,147,143,152,148,160,168, 185,170,160,150,140,132,128,130,
         128,131,129,133,130,134,131,135, 132,136,133,137,134,138,135,139,
         136,140,137,141,138,142,139,143, 140,145,142,148,145,152,150,158,
         155,165,160,168,155,145,135,128, 126,128,127,130,128,132,130,134,
         131,135,132,137,134,138,135,140, 137,141,138,142,139,144,140,145,
         141,146,142,147,144,150,146,152, 148,155,150,158,153,161,156,165,
         170,185,205,180,209,180,202,175, 165,155,140,129,115,105,100,98,
         97,96,96,96,96,96,96,97, 97,98,99,100,101,101,102,103,
         104,106,108,110,113,112,116,118, 122,120,126,124,130,128,135,132,
         140,137,145,142,150,148,156,160, 169,158,162,150,152,146,148,140,
         136,125,118,119,121,124,126,129, 127,131,128,132,129,133,130,135,
         132,137,134,139,136,143,139,146, 142,150,146,153,149,157,152,160,
         155,163,158,166,160,169,162,158, 152,148,142,135,128,123,122,124,
         128,132,136,138,140,135,130,136,
         140]
LTS_12 = [100,80,70,64, 58,138,134,124, 116,112,106,104, 105,102,100,103, 99,101,97,98,
          94,88,80,120, 118,117,116,117, 115,116,114,113, 111,112,110,111, 109,110,122,108,
          102,96,91,86, 82,76,68,64, 132,126,118,112, 109,106,104,105, 120,110,104,100,
          98,100,96,97, 94,93,92,93, 91,92,90,91, 89,90,88,89, 88,90,88,86,
          82,76,70,64, 60,120,128,120, 115,112,110,108, 106,107,104,105, 102,103,100,101,
          99,100,98,99, 97,98,110,102, 98,94,90,86, 82,80,76,72, 74,125,118,112,
          108,106,104,103, 101,102,100,101, 99,100,98,96, 92,88,84,80, 78,80,120,112,
          106,103,101,100, 99,98,98,97, 97,96,97,96, 97,96,98,99, 97,96,94,88,
          84,80,76,72, 68,122,130,118, 110,106,104,110, 108,104,106,104, 105,103,104,100,
          97,96,95,96, 95,94,96,118, 110,96,88,92, 136,128,120,114, 106,104,110,106,
          107,104,100,96, 95,96,95,94, 94,90,88,85, 84,96,132,126, 120,112,104,100,
          97]

VALUE_UNIT = 1e-4
PANELS = [
    (LTS_01, RS_01, ON_01), (LTS_02, RS_02, ON_02), (LTS_03, RS_03, ON_03),
    (LTS_04, RS_04, ON_04), (LTS_05, RS_05, ON_05), (LTS_06, RS_06, ON_06),
    (LTS_07, RS_07, ON_07), (LTS_08, RS_08, ON_08), (LTS_09, RS_09, ON_09),
    (LTS_10, RS_10, ON_10), (LTS_11, RS_11, ON_11), (LTS_12, RS_12, ON_12),
]
T_END = 5500

# ---------------- layout geometry (pixels) ----------------
W, H = 2133, 1600
X_LEFT, X_RIGHT = 108.7, 2106.0
Y_MIN, Y_MAX = 0.0048, 0.0221
BAR_Y = 0.0216
BOTTOMS = [114 + 133.33 * k for k in range(11)] + [1566.7]
PX_PER_UNIT = [5370.0] * 11 + [4630.0]

C_LTS = '#0072BD'
C_RS = '#D95319'
AX_C = '#262626'
LABEL_FONT = 'DejaVu Sans Condensed, Liberation Sans Narrow, sans-serif'

fig = go.Figure()
layout = {}
annotations = []

for k, (lts, rs, ons) in enumerate(PANELS):
    i = k + 1
    sfx = '' if i == 1 else str(i)
    xa, ya = 'x' + sfx, 'y' + sfx
    t_l = np.linspace(0, T_END, len(lts))
    t_r = np.linspace(0, T_END, len(rs))
    fig.add_trace(go.Scatter(x=t_l, y=np.array(lts) * VALUE_UNIT, mode='lines',
                             line=dict(color=C_LTS, width=3.5), name='&lt;LTS&gt;',
                             legendgroup='lts', showlegend=(k == 0), xaxis=xa, yaxis=ya))
    fig.add_trace(go.Scatter(x=t_r, y=np.array(rs) * VALUE_UNIT, mode='lines',
                             line=dict(color=C_RS, width=3.5), name='&lt;RS&gt;',
                             legendgroup='rs', showlegend=(k == 0), xaxis=xa, yaxis=ya))
    bx, by = [], []
    for o in ons:
        bx += [o, o + PULSE_DUR, None]
        by += [BAR_Y, BAR_Y, None]
    fig.add_trace(go.Scatter(x=bx, y=by, mode='lines', line=dict(color='#FF0000', width=5),
                             showlegend=False, hoverinfo='skip', xaxis=xa, yaxis=ya))

    bottom = BOTTOMS[k]
    top = bottom - (Y_MAX - Y_MIN) * PX_PER_UNIT[k]
    layout['xaxis' + sfx] = dict(
        domain=[X_LEFT / W, X_RIGHT / W], range=[0, T_END], anchor=ya,
        showline=True, linecolor=AX_C, linewidth=1, mirror=False,
        ticks='inside', ticklen=15, tickwidth=1, tickcolor=AX_C,
        tickmode='array', tickvals=TICK_X, ticktext=[str(v) for v in TICK_X],
        showticklabels=(k == 11), showgrid=False, zeroline=False,
        tickfont=dict(family='Liberation Sans, Arial, sans-serif', size=21, color=AX_C),
        ticklabelstandoff=8,
    )
    layout['yaxis' + sfx] = dict(
        domain=[1 - bottom / H, 1 - top / H], range=[Y_MIN, Y_MAX], anchor=xa,
        showline=True, linecolor=AX_C, linewidth=1, mirror=False,
        ticks='inside', ticklen=20, tickwidth=1, tickcolor=AX_C,
        tickmode='array', tickvals=TICK_Y, ticktext=TICK_Y_TEXT,
        showgrid=False, zeroline=False,
        tickfont=dict(family='DejaVu Sans, sans-serif', size=18, color=AX_C),
        ticklabelstandoff=10,
    )
    label = ' '.join([FREQ_LABELS[k]] * 5)
    annotations.append(dict(
        text='<b>' + label + '</b>', textangle=-90, xref='paper', yref='paper',
        x=40 / W, y=1 - (bottom + top) / 2 / H, xanchor='center', yanchor='middle',
        showarrow=False, font=dict(family=LABEL_FONT, size=19, color='#000000'),
    ))

annotations.append(dict(
    text='<b>C RS PPmaskfreq FS PPm</b>', textangle=-90, xref='paper', yref='paper',
    x=12 / W, y=1 - 810 / H, xanchor='center', yanchor='middle', showarrow=False,
    font=dict(family=LABEL_FONT, size=18, color='#000000'),
))

fig.update_layout(
    width=W, height=H, margin=dict(l=0, r=0, t=0, b=0),
    paper_bgcolor='white', plot_bgcolor='white',
    font=dict(family='Liberation Sans, Arial, sans-serif', color=AX_C),
    showlegend=True,
    legend=dict(x=1941.7 / W, y=1 - 43 / H, xanchor='left', yanchor='top',
                bgcolor='white', bordercolor=AX_C, borderwidth=1,
                font=dict(family='Liberation Sans, Arial, sans-serif', size=20, color='#000000'),
                tracegroupgap=0, itemwidth=30),
    annotations=annotations,
    **layout,
)

fig.write_html('out.html')
